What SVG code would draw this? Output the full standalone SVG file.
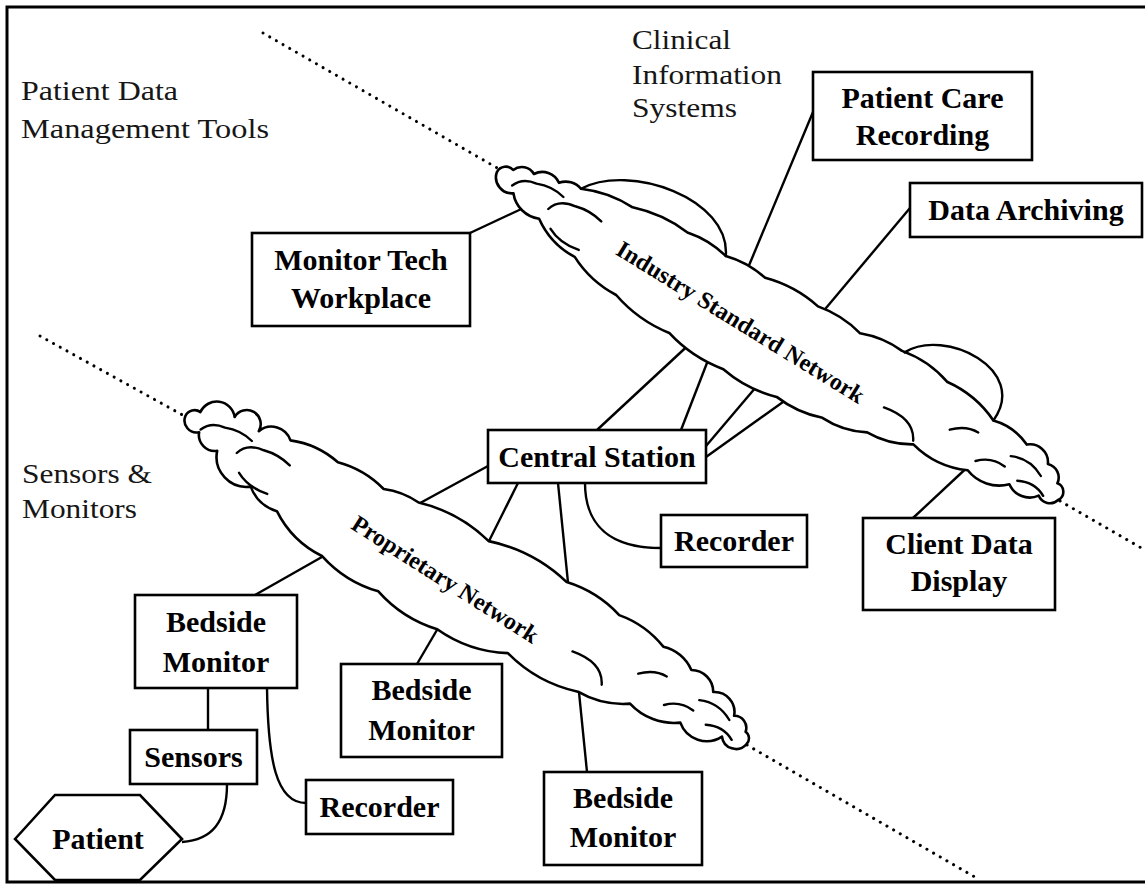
<svg xmlns="http://www.w3.org/2000/svg" width="1145" height="884" viewBox="0 0 1145 884">
  <style>
    .frame { fill: none; stroke: #000; stroke-width: 3; }
    .zone { font-family: "Liberation Serif", "Times New Roman", serif; font-size: 28px; fill: #161616; }
    .dots { fill: none; stroke: #000; stroke-width: 3; stroke-dasharray: 0.1 7.6; stroke-linecap: round; }
    .conn { fill: none; stroke: #000; stroke-width: 2.4; }
    .cloud { fill: #fff; stroke: #000; stroke-width: 2.6; stroke-linejoin: round; }
    .cloudline { fill: none; stroke: #000; stroke-width: 2.4; stroke-linecap: round; }
    .net { font-family: "Liberation Serif", "Times New Roman", serif; font-weight: bold; font-size: 24px; text-anchor: middle; fill: #000; }
    .box { fill: #fff; stroke: #000; stroke-width: 2.6; }
    .lbl { font-family: "Liberation Serif", "Times New Roman", serif; font-weight: bold; font-size: 30px; text-anchor: middle; fill: #000; }
  </style>
  <defs>
    <!-- nested lobe strokes at both ends of a network cloud (local, axis-aligned frame) -->
    <path id="cloudInner" d="M -305,4 Q -300,-8 -285,-10 Q -270,-16 -255,-12 M -262,6 Q -258,-8 -240,-10 Q -225,-14 -210,-10 M -250,22 Q -235,30 -215,26 M 128,8 Q 160,2 170,22 M 196,-6 Q 208,-18 222,-18 M 234,8 Q 246,-4 262,-2 M 262,-14 Q 280,-22 298,-12 M 280,4 Q 296,-4 310,4"/>
  </defs>

  <rect class="frame" x="7" y="7" width="1150" height="875"/>

  <!-- zone captions -->
  <g id="zone-labels">
    <text class="zone" x="21" y="100" textLength="157" lengthAdjust="spacingAndGlyphs">Patient Data</text>
    <text class="zone" x="21" y="138" textLength="248" lengthAdjust="spacingAndGlyphs">Management Tools</text>
    <text class="zone" x="632" y="49" textLength="99" lengthAdjust="spacingAndGlyphs">Clinical</text>
    <text class="zone" x="632" y="84" textLength="150" lengthAdjust="spacingAndGlyphs">Information</text>
    <text class="zone" x="632" y="117" textLength="105" lengthAdjust="spacingAndGlyphs">Systems</text>
    <text class="zone" x="22" y="483" textLength="130" lengthAdjust="spacingAndGlyphs">Sensors &amp;</text>
    <text class="zone" x="22" y="518" textLength="115" lengthAdjust="spacingAndGlyphs">Monitors</text>
  </g>

  <!-- zone boundaries -->
  <g id="boundaries">
    <path class="dots" d="M263,33 L499,169"/>
    <path class="dots" d="M1060,501 L1150,553"/>
    <path class="dots" d="M40,336 L188,418"/>
    <path class="dots" d="M747,745 L980,880"/>
  </g>

  <!-- connectors -->
  <g id="connectors">
    <path class="conn" d="M470,233 L532,204"/>
    <path class="conn" d="M813,112 L745,275"/>
    <path class="conn" d="M910,208 L821,314"/>
    <path class="conn" d="M913,518 L973,462"/>
    <path class="conn" d="M597,430 L695,339"/>
    <path class="conn" d="M681,430 L712,350"/>
    <path class="conn" d="M706,446 L762,380"/>
    <path class="conn" d="M706,457 L790,397"/>
    <path class="conn" d="M488,466 L411,508"/>
    <path class="conn" d="M518,483 L485,549"/>
    <path class="conn" d="M558,483 L587,772"/>
    <path class="conn" d="M585,483 C585,525 610,548 661,548"/>
    <path class="conn" d="M255,595 L336,549"/>
    <path class="conn" d="M417,664 L444,618"/>
    <path class="conn" d="M208,688 L208,730"/>
    <path class="conn" d="M267,688 C268,760 276,803 306,803"/>
    <path class="conn" d="M227,784 C227,822 212,840 182,842"/>
  </g>

  <!-- Industry Standard Network cloud -->
  <g id="industry-network">
    <g transform="translate(777.5,336) rotate(30.3)">
      <path class="cloud" d="M -325,0 A 10 10 0 0 1 -312,-10 A 14 14 0 0 1 -292,-17 A 18 18 0 0 1 -266,-22 A 20 20 0 0 1 -244,-28 A 120 120 0 0 1 -190,-38 A 140 140 0 0 1 -130,-44 A 100 100 0 0 1 -85,-43 A 100 100 0 0 1 -40,-44 A 130 130 0 0 1 20,-46 A 110 110 0 0 1 70,-44 A 100 100 0 0 1 115,-50 A 110 110 0 0 1 170,-46 A 110 110 0 0 1 229,-36 A 60 60 0 0 1 270,-32 A 18 18 0 0 1 298,-26 A 14 14 0 0 1 316,-14 A 9 9 0 0 1 325,0 A 12 12 0 0 1 306,6 A 22 22 0 0 1 275,11 A 40 40 0 0 1 232,20 A 90 90 0 0 1 172,25 A 90 90 0 0 1 126,38 A 90 90 0 0 1 80,48 A 110 110 0 0 1 30,53 A 130 130 0 0 1 -30,56 A 140 140 0 0 1 -95,52 A 140 140 0 0 1 -160,46 A 110 110 0 0 1 -215,34 A 80 80 0 0 1 -265,19 A 30 30 0 0 1 -300,10 A 16 16 0 0 1 -325,0 Z"/>
      <path class="cloudline" d="M -244,-28 C -215,-75 -110,-95 -85,-43 M 118,-50 C 140,-92 235,-98 229,-36"/>
      <use href="#cloudInner" class="cloudline"/>
    </g>
    <text class="net" transform="translate(736.5,329) rotate(31.7)">Industry Standard Network</text>
  </g>

  <!-- Proprietary Network cloud -->
  <g id="proprietary-network">
    <g transform="translate(466,580) rotate(30.3)">
      <path class="cloud" d="M -325,0 A 10 10 0 0 1 -314,-11 A 18 18 0 0 1 -282,-24 A 14 14 0 0 1 -254,-24 A 20 20 0 0 1 -222,-32 A 90 90 0 0 1 -170,-37 A 100 100 0 0 1 -117,-37 A 80 80 0 0 1 -80,-43 A 150 150 0 0 1 0,-45 A 160 160 0 0 1 88,-49 A 120 120 0 0 1 150,-47 A 100 100 0 0 1 204,-42 A 40 40 0 0 1 240,-36 A 22 22 0 0 1 270,-28 A 20 20 0 0 1 300,-18 A 12 12 0 0 1 318,-10 A 8 8 0 0 1 325,0 A 14 14 0 0 1 300,6 A 28 28 0 0 1 257,15 A 60 60 0 0 1 204,24 A 90 90 0 0 1 153,40 A 140 140 0 0 1 73,42 A 130 130 0 0 1 0,57 A 130 130 0 0 1 -70,54 A 120 120 0 0 1 -136,52 A 100 100 0 0 1 -198,36 A 40 40 0 0 1 -233,28 A 30 30 0 0 1 -280,14 A 16 16 0 0 1 -305,7 A 12 12 0 0 1 -325,0 Z"/>
      <use href="#cloudInner" class="cloudline"/>
    </g>
    <text class="net" transform="translate(441,586) rotate(32.5)">Proprietary Network</text>
  </g>

  <!-- nodes -->
  <g id="monitor-tech-workplace">
    <rect class="box" x="252" y="233" width="218" height="93"/>
    <text class="lbl" x="361" y="270">Monitor Tech</text>
    <text class="lbl" x="361" y="308">Workplace</text>
  </g>
  <g id="patient-care-recording">
    <rect class="box" x="813" y="72" width="219" height="88"/>
    <text class="lbl" x="922.5" y="108">Patient Care</text>
    <text class="lbl" x="922.5" y="145">Recording</text>
  </g>
  <g id="data-archiving">
    <rect class="box" x="910" y="183" width="232" height="54"/>
    <text class="lbl" x="1026" y="220">Data Archiving</text>
  </g>
  <g id="central-station">
    <rect class="box" x="488" y="430" width="218" height="53"/>
    <text class="lbl" x="597" y="467">Central Station</text>
  </g>
  <g id="recorder-central">
    <rect class="box" x="661" y="515" width="146" height="52"/>
    <text class="lbl" x="734" y="551">Recorder</text>
  </g>
  <g id="client-data-display">
    <rect class="box" x="863" y="518" width="192" height="92"/>
    <text class="lbl" x="959" y="554">Client Data</text>
    <text class="lbl" x="959" y="591">Display</text>
  </g>
  <g id="bedside-monitor-1">
    <rect class="box" x="135" y="595" width="162" height="93"/>
    <text class="lbl" x="216" y="632">Bedside</text>
    <text class="lbl" x="216" y="672">Monitor</text>
  </g>
  <g id="bedside-monitor-2">
    <rect class="box" x="341" y="664" width="161" height="93"/>
    <text class="lbl" x="421.5" y="700">Bedside</text>
    <text class="lbl" x="421.5" y="740">Monitor</text>
  </g>
  <g id="bedside-monitor-3">
    <rect class="box" x="544" y="772" width="158" height="93"/>
    <text class="lbl" x="623" y="808">Bedside</text>
    <text class="lbl" x="623" y="847">Monitor</text>
  </g>
  <g id="sensors">
    <rect class="box" x="130" y="730" width="127" height="54"/>
    <text class="lbl" x="193.5" y="767">Sensors</text>
  </g>
  <g id="recorder-bedside">
    <rect class="box" x="306" y="780" width="147" height="54"/>
    <text class="lbl" x="379.5" y="817">Recorder</text>
  </g>
  <g id="patient">
    <polygon class="box" points="15,839 55,795 140,795 182,839 140,880 55,880"/>
    <text class="lbl" x="98" y="849">Patient</text>
  </g>
</svg>
